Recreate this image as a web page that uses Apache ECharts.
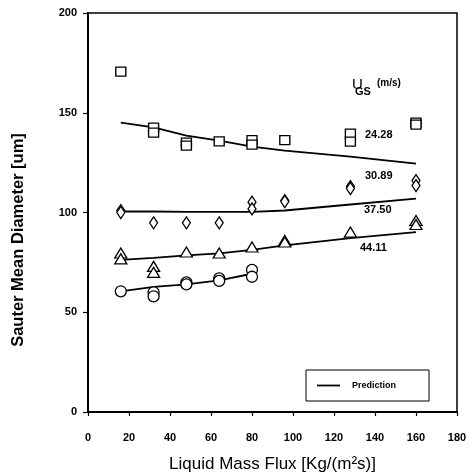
<!DOCTYPE html>
<html>
<head>
<meta charset="utf-8">
<script src="https://cdn.jsdelivr.net/npm/echarts@6/dist/echarts.min.js"></script>
<style>
html,body{margin:0;padding:0;background:#fff;}
#main{width:469px;height:472px;}
</style>
</head>
<body>
<div id="main"></div>
<script>
// 液体质量通量 (x 位置)
var xCats = [16, 32, 48, 64, 80, 96, 128, 160];

// 实测点 24.28 m/s (方块)
var sqX = [16, 32, 32, 48, 48, 64, 80, 80, 96, 128, 128, 160, 160];
var sqY = [170.6, 142.5, 140, 135, 133.5, 135.6, 136.3, 134, 136.3, 139.5, 135.5, 145, 144];
// 30.89 m/s (菱形)
var dmX = [16, 16, 32, 48, 64, 80, 80, 96, 96, 128, 128, 160, 160];
var dmY = [101, 100, 94.8, 94.8, 94.8, 105.2, 101.8, 106, 105.5, 113, 112, 116, 113.5];
// 37.50 m/s (三角)
var trX = [16, 16, 32, 32, 48, 64, 80, 96, 96, 128, 160, 160];
var trY = [79.7, 76.8, 73, 70, 80.2, 79.7, 82.7, 86, 85.2, 90.2, 96, 94];
// 44.11 m/s (圆)
var ciX = [16, 32, 32, 48, 48, 64, 64, 80, 80];
var ciY = [60.5, 60, 58, 65, 64, 67, 65.7, 71.2, 67.8];

// 预测曲线
var pred24 = [145, 142.7, 138.5, 136, 133, 131, 128, 124.5];
var pred31 = [100.5, 100.5, 100.3, 100.3, 100.3, 101, 104, 107];
var pred37 = [76.3, 77.3, 78.5, 79.5, 81.3, 83.5, 87.2, 90.2];
var pred44 = [60.5, 62.7, 64, 66, 69.3];

var xTicks = [0, 20, 40, 60, 80, 100, 120, 140, 160, 180];
var yTicks = [0, 50, 100, 150, 200];
var ugsLabels = ['24.28', '30.89', '37.50', '44.11'];

var FONT = 'Liberation Sans, Arial, Helvetica, sans-serif';

function pairs(xs, ys){
	var out = [];
	for (var i = 0; i < ys.length; i++) out.push([xs[i], ys[i]]);
	return out;
}

function scatter(xs, ys, sym, size){
	return {
		type: 'scatter',
		data: pairs(xs, ys),
		symbol: sym,
		symbolSize: size,
		silent: true,
		itemStyle: {color: '#fff', borderColor: '#000', borderWidth: 1.3, opacity: 1},
		z: 3
	};
}

function predLine(ys){
	return {
		name: 'Prediction',
		type: 'line',
		data: pairs(xCats, ys),
		symbol: 'none',
		silent: true,
		lineStyle: {color: '#000', width: 1.8},
		itemStyle: {color: '#000'},
		z: 2
	};
}

var chart = echarts.init(document.getElementById('main'));

var option = {
	animation: false,
	backgroundColor: '#fff',
	grid: {
		left: 88, top: 13, right: 12, bottom: 60,
		outerBoundsMode: 'none', containLabel: false,
		show: true, borderColor: '#000', borderWidth: 1.5, backgroundColor: 'transparent'
	},
	legend: {
		data: ['Prediction'],
		left: 306, top: 370,
		orient: 'horizontal',
		icon: 'rect',
		itemWidth: 23, itemHeight: 1.8,
		padding: [11, 33, 11, 11],
		borderColor: '#000', borderWidth: 1,
		selectedMode: false,
		textStyle: {fontFamily: FONT, fontSize: 9, fontWeight: 'bold', color: '#000', padding: [0, 0, 0, 7]}
	},
	xAxis: {
		type: 'value',
		min: 0, max: 180, interval: 20,
		axisLine: {show: true, lineStyle: {color: '#000', width: 2}},
		axisTick: {show: true, inside: false, length: 4, lineStyle: {color: '#000', width: 1.2}},
		axisLabel: {
			color: '#000', fontFamily: FONT, fontSize: 11, fontWeight: 'bold', margin: 20,
			formatter: function(v){ return xTicks.indexOf(v) >= 0 ? String(v) : ''; }
		},
		splitLine: {show: false},
		name: 'Liquid Mass Flux [Kg/(m²s)]',
		nameLocation: 'middle',
		nameGap: 44,
		nameTextStyle: {color: '#000', fontFamily: FONT, fontSize: 17}
	},
	yAxis: {
		type: 'value',
		min: 0, max: 200, interval: 50,
		axisLine: {show: true, lineStyle: {color: '#000', width: 2}},
		axisTick: {show: true, inside: false, length: 5, lineStyle: {color: '#000', width: 1.2}},
		axisLabel: {
			color: '#000', fontFamily: FONT, fontSize: 11, fontWeight: 'bold', margin: 11,
			formatter: function(v){ return yTicks.indexOf(v) >= 0 ? String(v) : ''; }
		},
		splitLine: {show: false}
	},
	graphic: [
		{
			type: 'text', x: 18, y: 240, rotation: Math.PI / 2,
			style: {text: 'Sauter Mean Diameter [um]', fill: '#000', font: 'bold 16.5px ' + FONT, align: 'center', verticalAlign: 'middle'}
		},
		{type: 'text', x: 352, y: 77, style: {text: 'U', fill: '#000', font: '15px ' + FONT}},
		{type: 'text', x: 355, y: 86, style: {text: 'GS', fill: '#000', font: 'bold 11px ' + FONT}},
		{type: 'text', x: 377, y: 78, style: {text: '(m/s)', fill: '#000', font: 'bold 10px ' + FONT}},
		{type: 'text', x: 365, y: 135, style: {text: ugsLabels[0], fill: '#000', font: 'bold 11px ' + FONT, verticalAlign: 'middle'}},
		{type: 'text', x: 365, y: 176, style: {text: ugsLabels[1], fill: '#000', font: 'bold 11px ' + FONT, verticalAlign: 'middle'}},
		{type: 'text', x: 364, y: 210, style: {text: ugsLabels[2], fill: '#000', font: 'bold 11px ' + FONT, verticalAlign: 'middle'}},
		{type: 'text', x: 360, y: 248, style: {text: ugsLabels[3], fill: '#000', font: 'bold 11px ' + FONT, verticalAlign: 'middle'}}
	],
	series: [
		predLine(pred24),
		predLine(pred31),
		predLine(pred37),
		predLine(pred44),
		scatter(sqX, sqY, 'rect', [10, 9]),
		scatter(dmX, dmY, 'diamond', [8, 12]),
		scatter(trX, trY, 'triangle', [12, 10]),
		scatter(ciX, ciY, 'circle', 11)
	]
};

chart.setOption(option);
</script>
</body>
</html>
